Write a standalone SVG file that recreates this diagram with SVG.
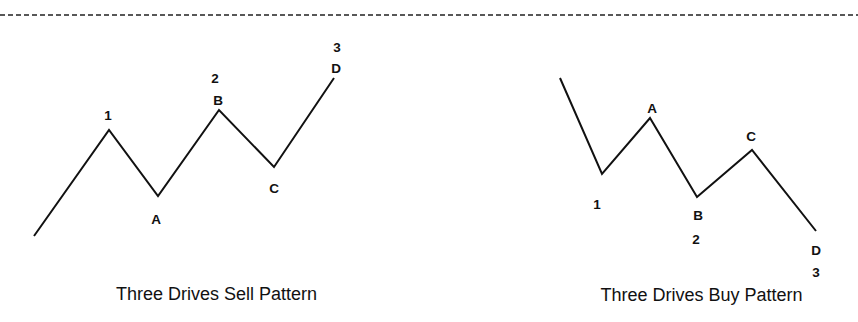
<svg xmlns="http://www.w3.org/2000/svg" width="858" height="322" viewBox="0 0 858 322">
<style>
.line{fill:none;stroke:#111;stroke-width:2;stroke-linejoin:miter;stroke-linecap:butt}
.lbl{font-family:"Liberation Sans",Arial,sans-serif;font-size:13.5px;font-weight:bold;fill:#111;text-anchor:middle}
.title{font-family:"Liberation Sans",Arial,sans-serif;font-size:18px;fill:#111;text-anchor:middle}
.sep{stroke:#222;stroke-width:1.5;stroke-dasharray:5 3}
</style>
<rect width="858" height="322" fill="#fff"/>
<line class="sep" x1="0" y1="15" x2="858" y2="15"/>
<g id="connectors">
<polyline id="sell-path" class="line" points="34,236 109,130 158,196 219,110 274,167 334,78"/>
<polyline id="buy-path" class="line" points="560,78 602,174 650,118 697,197 752,150 816,231"/>
</g>
<g id="sell-pattern">
<g id="sell-1"><text class="lbl" x="108" y="120">1</text></g>
<g id="sell-A"><text class="lbl" x="156" y="224">A</text></g>
<g id="sell-B"><text class="lbl" x="215" y="83">2</text><text class="lbl" x="218" y="105">B</text></g>
<g id="sell-C"><text class="lbl" x="274" y="193">C</text></g>
<g id="sell-D"><text class="lbl" x="337" y="52">3</text><text class="lbl" x="336" y="73">D</text></g>
<text class="title" x="216.5" y="300">Three Drives Sell Pattern</text>
</g>
<g id="buy-pattern">
<g id="buy-1"><text class="lbl" x="597" y="209">1</text></g>
<g id="buy-A"><text class="lbl" x="652" y="113">A</text></g>
<g id="buy-B"><text class="lbl" x="698" y="220">B</text><text class="lbl" x="696" y="244">2</text></g>
<g id="buy-C"><text class="lbl" x="751" y="141">C</text></g>
<g id="buy-D"><text class="lbl" x="816" y="255">D</text><text class="lbl" x="816" y="277">3</text></g>
<text class="title" x="701.5" y="301">Three Drives Buy Pattern</text>
</g>
</svg>
